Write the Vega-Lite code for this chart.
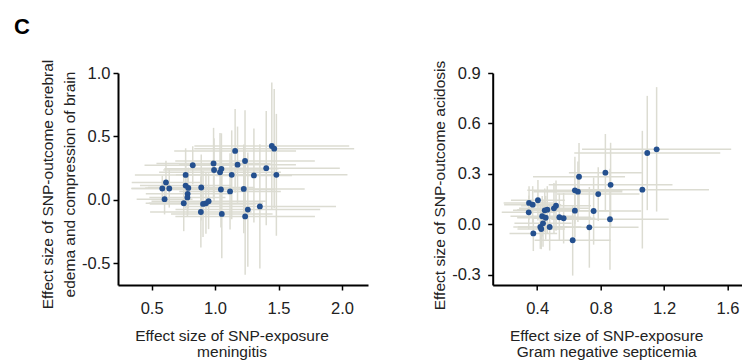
{
  "$schema": "https://vega.github.io/schema/vega-lite/v6.json",
  "padding": {"left": 14, "top": 16, "right": 0, "bottom": 0},
  "autosize": {"type": "pad"},
  "title": {"text": "C", "anchor": "start", "frame": "group", "dx": -104, "fontSize": 22, "fontWeight": "bold", "font": "Liberation Sans", "color": "#000000", "offset": 20},
  "spacing": 124.7,
  "bounds": "flush",
  "config": {
    "view": {"stroke": null},
    "font": "Liberation Sans",
    "axis": {"domainColor": "#000000", "domainWidth": 2, "tickColor": "#000000", "tickWidth": 1.5, "tickSize": 5, "labelFontSize": 16.5, "labelColor": "#222222", "labelFont": "Liberation Sans", "titleFont": "Liberation Sans", "titleFontSize": 15.5, "titleFontWeight": "normal", "titleColor": "#222222", "grid": false},
    "locale": {"number": {"decimal": ".", "thousands": ",", "grouping": [3], "currency": ["$", ""], "minus": "-"}}
  },
  "datasets": {
    "men": [
      {"x": 0.584, "y": 0.090, "xlo": 0.344, "xhi": 0.824, "ylo": -0.010, "yhi": 0.190},
      {"x": 0.613, "y": 0.138, "xlo": 0.343, "xhi": 0.883, "ylo": -0.032, "yhi": 0.308},
      {"x": 0.639, "y": 0.090, "xlo": 0.339, "xhi": 0.939, "ylo": -0.060, "yhi": 0.240},
      {"x": 0.602, "y": 0.006, "xlo": 0.382, "xhi": 0.822, "ylo": -0.114, "yhi": 0.126},
      {"x": 0.753, "y": -0.026, "xlo": 0.453, "xhi": 1.053, "ylo": -0.246, "yhi": 0.194},
      {"x": 0.768, "y": 0.197, "xlo": 0.368, "xhi": 1.168, "ylo": -0.013, "yhi": 0.407},
      {"x": 0.768, "y": 0.113, "xlo": 0.408, "xhi": 1.128, "ylo": -0.067, "yhi": 0.293},
      {"x": 0.789, "y": 0.095, "xlo": 0.449, "xhi": 1.129, "ylo": -0.065, "yhi": 0.255},
      {"x": 0.784, "y": 0.048, "xlo": 0.454, "xhi": 1.114, "ylo": -0.112, "yhi": 0.208},
      {"x": 0.782, "y": 0.020, "xlo": 0.482, "xhi": 1.082, "ylo": -0.130, "yhi": 0.170},
      {"x": 0.824, "y": 0.273, "xlo": 0.444, "xhi": 1.204, "ylo": 0.123, "yhi": 0.423},
      {"x": 0.891, "y": 0.098, "xlo": 0.471, "xhi": 1.311, "ylo": -0.162, "yhi": 0.358},
      {"x": 0.888, "y": -0.095, "xlo": 0.488, "xhi": 1.288, "ylo": -0.375, "yhi": 0.185},
      {"x": 0.905, "y": -0.031, "xlo": 0.485, "xhi": 1.325, "ylo": -0.291, "yhi": 0.229},
      {"x": 0.928, "y": -0.027, "xlo": 0.478, "xhi": 1.378, "ylo": -0.267, "yhi": 0.213},
      {"x": 0.949, "y": -0.010, "xlo": 0.499, "xhi": 1.399, "ylo": -0.230, "yhi": 0.210},
      {"x": 0.988, "y": 0.288, "xlo": 0.538, "xhi": 1.438, "ylo": 0.008, "yhi": 0.568},
      {"x": 0.992, "y": 0.236, "xlo": 0.592, "xhi": 1.392, "ylo": -0.014, "yhi": 0.486},
      {"x": 1.039, "y": 0.218, "xlo": 0.559, "xhi": 1.519, "ylo": -0.092, "yhi": 0.528},
      {"x": 1.050, "y": 0.245, "xlo": 0.600, "xhi": 1.500, "ylo": -0.035, "yhi": 0.525},
      {"x": 1.046, "y": 0.082, "xlo": 0.626, "xhi": 1.466, "ylo": -0.218, "yhi": 0.382},
      {"x": 1.053, "y": -0.110, "xlo": 0.653, "xhi": 1.453, "ylo": -0.460, "yhi": 0.240},
      {"x": 1.158, "y": 0.386, "xlo": 0.678, "xhi": 1.638, "ylo": 0.056, "yhi": 0.716},
      {"x": 1.131, "y": 0.198, "xlo": 0.691, "xhi": 1.571, "ylo": -0.152, "yhi": 0.548},
      {"x": 1.177, "y": 0.278, "xlo": 0.717, "xhi": 1.637, "ylo": -0.022, "yhi": 0.578},
      {"x": 1.118, "y": 0.067, "xlo": 0.718, "xhi": 1.518, "ylo": -0.233, "yhi": 0.367},
      {"x": 1.236, "y": 0.307, "xlo": 0.686, "xhi": 1.786, "ylo": -0.093, "yhi": 0.707},
      {"x": 1.226, "y": 0.087, "xlo": 0.746, "xhi": 1.706, "ylo": -0.263, "yhi": 0.437},
      {"x": 1.306, "y": 0.193, "xlo": 1.006, "xhi": 1.606, "ylo": -0.177, "yhi": 0.563},
      {"x": 1.258, "y": -0.076, "xlo": 0.688, "xhi": 1.828, "ylo": -0.526, "yhi": 0.374},
      {"x": 1.237, "y": -0.130, "xlo": 0.687, "xhi": 1.787, "ylo": -0.590, "yhi": 0.330},
      {"x": 1.353, "y": -0.051, "xlo": 0.753, "xhi": 1.953, "ylo": -0.541, "yhi": 0.439},
      {"x": 1.403, "y": 0.250, "xlo": 0.823, "xhi": 1.983, "ylo": -0.200, "yhi": 0.700},
      {"x": 1.447, "y": 0.425, "xlo": 0.837, "xhi": 2.057, "ylo": -0.075, "yhi": 0.925},
      {"x": 1.466, "y": 0.404, "xlo": 0.836, "xhi": 2.096, "ylo": -0.066, "yhi": 0.874},
      {"x": 1.483, "y": 0.198, "xlo": 0.923, "xhi": 2.043, "ylo": -0.282, "yhi": 0.678}
    ],
    "gns": [
      {"x": 0.349, "y": 0.127, "xlo": 0.189, "xhi": 0.509, "ylo": 0.027, "yhi": 0.227},
      {"x": 0.372, "y": 0.117, "xlo": 0.192, "xhi": 0.552, "ylo": 0.007, "yhi": 0.227},
      {"x": 0.405, "y": 0.143, "xlo": 0.235, "xhi": 0.575, "ylo": 0.023, "yhi": 0.263},
      {"x": 0.347, "y": 0.071, "xlo": 0.177, "xhi": 0.517, "ylo": -0.029, "yhi": 0.171},
      {"x": 0.376, "y": -0.054, "xlo": 0.226, "xhi": 0.526, "ylo": -0.159, "yhi": 0.051},
      {"x": 0.420, "y": -0.016, "xlo": 0.250, "xhi": 0.590, "ylo": -0.146, "yhi": 0.114},
      {"x": 0.426, "y": -0.028, "xlo": 0.276, "xhi": 0.576, "ylo": -0.148, "yhi": 0.092},
      {"x": 0.437, "y": 0.006, "xlo": 0.257, "xhi": 0.617, "ylo": -0.134, "yhi": 0.146},
      {"x": 0.432, "y": 0.048, "xlo": 0.232, "xhi": 0.632, "ylo": -0.072, "yhi": 0.168},
      {"x": 0.454, "y": 0.039, "xlo": 0.274, "xhi": 0.634, "ylo": -0.091, "yhi": 0.169},
      {"x": 0.448, "y": 0.083, "xlo": 0.248, "xhi": 0.648, "ylo": -0.047, "yhi": 0.213},
      {"x": 0.464, "y": 0.087, "xlo": 0.274, "xhi": 0.654, "ylo": -0.053, "yhi": 0.227},
      {"x": 0.479, "y": -0.016, "xlo": 0.279, "xhi": 0.679, "ylo": -0.156, "yhi": 0.124},
      {"x": 0.506, "y": 0.095, "xlo": 0.286, "xhi": 0.726, "ylo": -0.055, "yhi": 0.245},
      {"x": 0.519, "y": 0.111, "xlo": 0.299, "xhi": 0.739, "ylo": -0.039, "yhi": 0.261},
      {"x": 0.540, "y": 0.042, "xlo": 0.340, "xhi": 0.740, "ylo": -0.098, "yhi": 0.182},
      {"x": 0.567, "y": 0.036, "xlo": 0.367, "xhi": 0.767, "ylo": -0.114, "yhi": 0.186},
      {"x": 0.624, "y": -0.095, "xlo": 0.384, "xhi": 0.864, "ylo": -0.305, "yhi": 0.115},
      {"x": 0.638, "y": 0.081, "xlo": 0.418, "xhi": 0.858, "ylo": -0.079, "yhi": 0.241},
      {"x": 0.638, "y": 0.202, "xlo": 0.338, "xhi": 0.938, "ylo": 0.002, "yhi": 0.402},
      {"x": 0.657, "y": 0.194, "xlo": 0.377, "xhi": 0.937, "ylo": 0.014, "yhi": 0.374},
      {"x": 0.664, "y": 0.283, "xlo": 0.374, "xhi": 0.954, "ylo": 0.083, "yhi": 0.483},
      {"x": 0.729, "y": -0.018, "xlo": 0.419, "xhi": 1.039, "ylo": -0.258, "yhi": 0.222},
      {"x": 0.756, "y": 0.079, "xlo": 0.456, "xhi": 1.056, "ylo": -0.121, "yhi": 0.279},
      {"x": 0.785, "y": 0.180, "xlo": 0.525, "xhi": 1.045, "ylo": 0.020, "yhi": 0.340},
      {"x": 0.830, "y": 0.307, "xlo": 0.600, "xhi": 1.060, "ylo": 0.077, "yhi": 0.537},
      {"x": 0.859, "y": 0.030, "xlo": 0.489, "xhi": 1.229, "ylo": -0.270, "yhi": 0.330},
      {"x": 0.863, "y": 0.235, "xlo": 0.473, "xhi": 1.253, "ylo": -0.015, "yhi": 0.485},
      {"x": 1.063, "y": 0.206, "xlo": 0.643, "xhi": 1.483, "ylo": -0.144, "yhi": 0.556},
      {"x": 1.094, "y": 0.424, "xlo": 0.634, "xhi": 1.554, "ylo": 0.084, "yhi": 0.764},
      {"x": 1.153, "y": 0.446, "xlo": 0.683, "xhi": 1.623, "ylo": 0.076, "yhi": 0.816}
    ]
  },
  "hconcat": [
    {
      "width": 250,
      "height": 212,
      "data": {"name": "men"},
      "layer": [
        {
          "mark": {"type": "rule", "color": "#dcdcd2", "strokeWidth": 1.5},
          "encoding": {
            "x": {"field": "xlo", "type": "quantitative", "title": ["Effect size of SNP-exposure", "meningitis"],
                  "scale": {"domain": [0.235, 2.205], "nice": false, "zero": false},
                  "axis": {"values": [0.5, 1.0, 1.5, 2.0], "format": ".1f", "labelPadding": 10, "titlePadding": 12, "titleLineHeight": 15.5, "titleX": 113.5}},
            "x2": {"field": "xhi"},
            "y": {"field": "y", "type": "quantitative", "title": ["Effect size of SNP-outcome cerebral", "edema and compression of brain"],
                  "scale": {"domain": [-0.67, 1.0], "nice": false, "zero": false},
                  "axis": {"values": [-0.5, 0.0, 0.5, 1.0], "format": ".1f", "labelPadding": 3, "titlePadding": 4.5, "titleLineHeight": 22, "titleY": 111}}
          }
        },
        {
          "mark": {"type": "rule", "color": "#dcdcd2", "strokeWidth": 1.5},
          "encoding": {
            "x": {"field": "x", "type": "quantitative", "title": ["Effect size of SNP-exposure", "meningitis"]},
            "y": {"field": "ylo", "type": "quantitative", "title": ["Effect size of SNP-outcome cerebral", "edema and compression of brain"]},
            "y2": {"field": "yhi"}
          }
        },
        {
          "mark": {"type": "point", "shape": "circle", "filled": true, "size": 34, "color": "#24508f", "opacity": 1},
          "encoding": {
            "x": {"field": "x", "type": "quantitative", "title": ["Effect size of SNP-exposure", "meningitis"]},
            "y": {"field": "y", "type": "quantitative", "title": ["Effect size of SNP-outcome cerebral", "edema and compression of brain"]}
          }
        }
      ]
    },
    {
      "width": 249.3,
      "height": 212,
      "data": {"name": "gns"},
      "layer": [
        {
          "mark": {"type": "rule", "color": "#dcdcd2", "strokeWidth": 1.5},
          "encoding": {
            "x": {"field": "xlo", "type": "quantitative", "title": ["Effect size of SNP-exposure", "Gram negative septicemia"],
                  "scale": {"domain": [0.12, 1.691], "nice": false, "zero": false},
                  "axis": {"values": [0.4, 0.8, 1.2, 1.6], "format": ".1f", "labelPadding": 10, "titlePadding": 12, "titleLineHeight": 15.5, "titleX": 113.5}},
            "x2": {"field": "xhi"},
            "y": {"field": "y", "type": "quantitative", "title": "Effect size of SNP-outcome acidosis",
                  "scale": {"domain": [-0.361, 0.9], "nice": false, "zero": false},
                  "axis": {"values": [-0.3, 0.0, 0.3, 0.6, 0.9], "format": ".1f", "labelPadding": 7.5, "titlePadding": 4.5, "titleY": 112}}
          }
        },
        {
          "mark": {"type": "rule", "color": "#dcdcd2", "strokeWidth": 1.5},
          "encoding": {
            "x": {"field": "x", "type": "quantitative", "title": ["Effect size of SNP-exposure", "Gram negative septicemia"]},
            "y": {"field": "ylo", "type": "quantitative", "title": "Effect size of SNP-outcome acidosis"},
            "y2": {"field": "yhi"}
          }
        },
        {
          "mark": {"type": "point", "shape": "circle", "filled": true, "size": 34, "color": "#24508f", "opacity": 1},
          "encoding": {
            "x": {"field": "x", "type": "quantitative", "title": ["Effect size of SNP-exposure", "Gram negative septicemia"]},
            "y": {"field": "y", "type": "quantitative", "title": "Effect size of SNP-outcome acidosis"}
          }
        }
      ]
    }
  ]
}
